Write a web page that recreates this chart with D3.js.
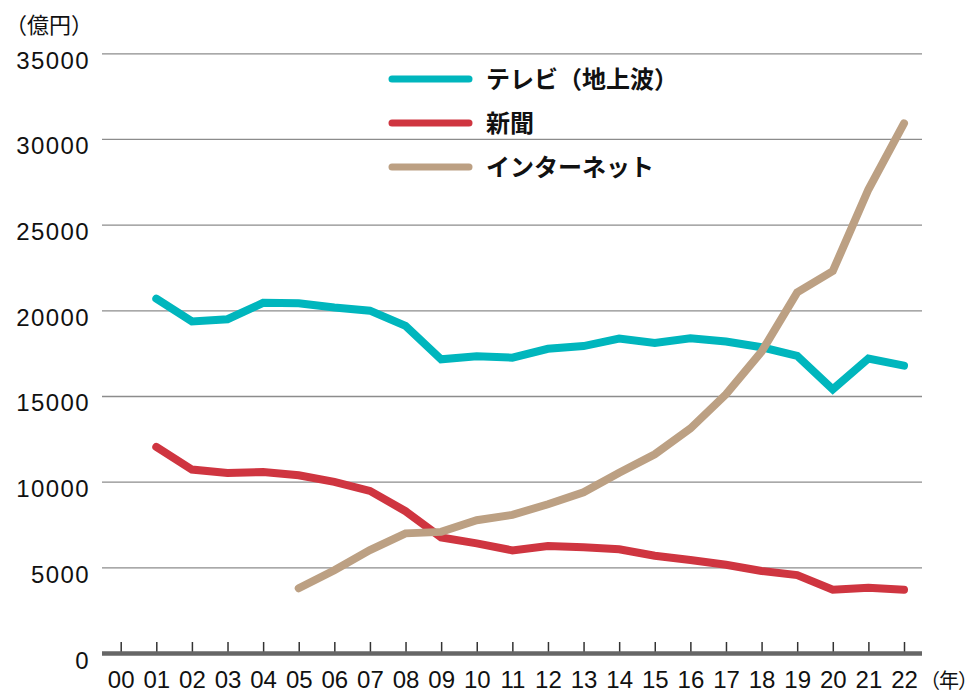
<!DOCTYPE html>
<html><head><meta charset="utf-8">
<script src="https://cdn.jsdelivr.net/npm/d3@7"></script>
<style>
body{margin:0;background:#fff;}
svg{display:block;}
</style></head>
<body>
<svg id="chart" width="980" height="700"></svg>
<script>
const yearLabels = ["00","01","02","03","04","05","06","07","08","09","10","11","12","13","14","15","16","17","18","19","20","21","22"];
const tvYears = [1,2,3,4,5,6,7,8,9,10,11,12,13,14,15,16,17,18,19,20,21,22];
const tvValues = [20681,19351,19480,20436,20411,20161,19981,19092,17139,17321,17237,17757,17913,18347,18088,18374,18178,17848,17345,15386,17184,16768];
const paperYears = [1,2,3,4,5,6,7,8,9,10,11,12,13,14,15,16,17,18,19,20,21,22];
const paperValues = [12027,10707,10500,10559,10377,9986,9462,8276,6739,6396,5990,6242,6170,6057,5679,5431,5147,4784,4547,3688,3815,3697];
const netYears = [5,6,7,8,9,10,11,12,13,14,15,16,17,18,19,20,21,22];
const netValues = [3777,4826,6003,6983,7069,7747,8062,8680,9381,10519,11594,13100,15094,17589,21048,22290,27052,30912];
const yTicks = [0,5000,10000,15000,20000,25000,30000,35000];
const seriesNames = ["テレビ（地上波）","新聞","インターネット"];
const seriesColors = ["#00b6bd","#cf3540","#bca083"];

const svg = d3.select("#chart");
const x = d3.scaleLinear().domain([0,22]).range([120.7,904]);
const y = d3.scaleLinear().domain([0,35000]).range([653,53.3]);
const gridLeft = 102, gridRight = 922;
const numFont = "'Liberation Sans', Arial, sans-serif";
const jpFont = "'Noto Sans CJK JP', sans-serif";

// Y axis with gridlines
const yAxis = svg.append("g")
  .attr("transform", `translate(${gridLeft},0)`)
  .call(d3.axisLeft(y).tickValues(yTicks).tickSize(-(gridRight-gridLeft)).tickPadding(12).tickFormat(d3.format("d")));
yAxis.select(".domain").remove();
yAxis.selectAll(".tick line").attr("stroke","#8c8c8c").attr("stroke-width",1.3)
  .attr("opacity", d => d === 0 ? 0 : 1);
yAxis.selectAll(".tick text").attr("font-family",numFont).attr("font-size",24)
  .attr("letter-spacing","1.4px")
  .attr("fill","#111").attr("dy","15px");

// X axis
const xAxis = svg.append("g")
  .attr("transform", `translate(0,${y(0)})`)
  .call(d3.axisBottom(x).tickValues(d3.range(0,23)).tickSize(-11).tickFormat(i => yearLabels[i]));
xAxis.select(".domain").remove();
xAxis.selectAll(".tick line").attr("stroke","#333").attr("stroke-width",1.5);
xAxis.selectAll(".tick text").attr("font-family",numFont).attr("font-size",24)
  .attr("fill","#111").attr("y",35).attr("dy",0);
svg.append("line").attr("x1",gridLeft).attr("x2",gridRight)
  .attr("y1",y(0)+0.5).attr("y2",y(0)+0.5)
  .attr("stroke","#666").attr("stroke-width",4.5);

// Lines
const line = d3.line().x(d => x(d[0])).y(d => y(d[1]));
const series = [
  d3.zip(tvYears, tvValues),
  d3.zip(paperYears, paperValues),
  d3.zip(netYears, netValues)
];
series.forEach((s,i) => {
  svg.append("path").datum(s).attr("d", line)
    .attr("fill","none").attr("stroke",seriesColors[i])
    .attr("stroke-width",8).attr("stroke-linecap","round").attr("stroke-linejoin","miter");
});

// Legend
const legendY = [79,123,167];
seriesNames.forEach((n,i) => {
  svg.append("line").attr("x1",392).attr("x2",469)
    .attr("y1",legendY[i]).attr("y2",legendY[i])
    .attr("stroke",seriesColors[i]).attr("stroke-width",7).attr("stroke-linecap","round");
  svg.append("text").attr("x",486).attr("y",legendY[i]).attr("dy","0.36em")
    .attr("font-family",jpFont).attr("font-weight","bold").attr("font-size",24)
    .attr("fill","#111").text(n);
});

// Unit labels
svg.append("text").attr("x",5).attr("y",33).attr("font-family",jpFont)
  .attr("font-size",22).attr("fill","#111").text("（億円）");
svg.append("text").attr("x",920).attr("y",688).attr("font-family",jpFont)
  .attr("font-size",20).attr("letter-spacing","-1px").attr("fill","#111").text("（年）");
</script>
</body></html>
